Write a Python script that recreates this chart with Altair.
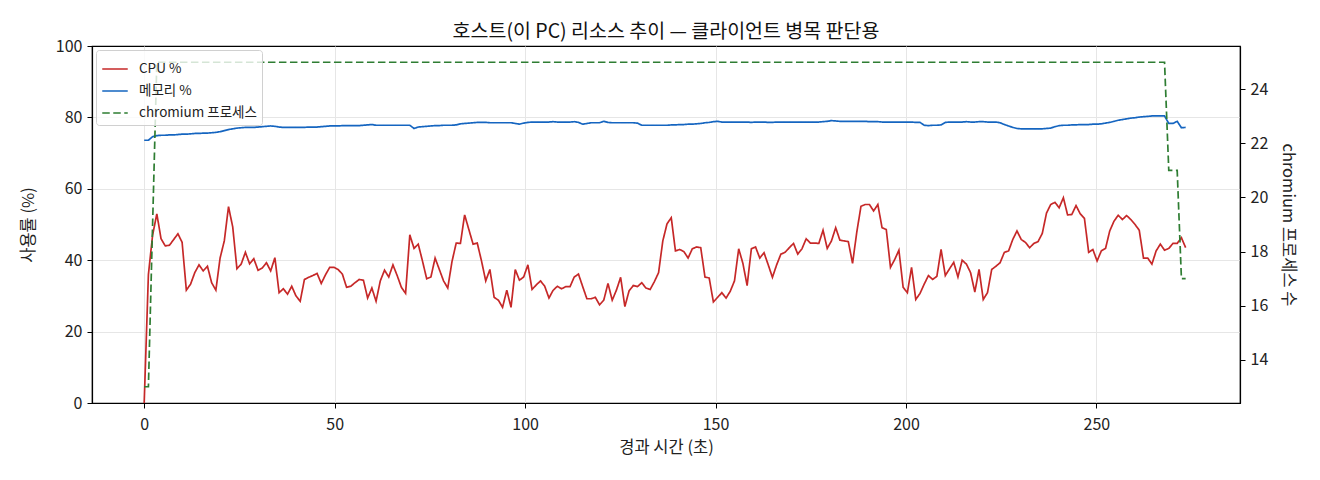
import pandas as pd
import altair as alt
from altair import datum

FONT = "Noto Sans CJK KR"

# sampling period of the monitor (seconds per sample)
sample_interval = 1.107

cpu_pct = [
    0, 36, 47, 53, 46, 44, 44.2, 45.8, 47.4, 45,
    31.6, 33.3, 36.5, 38.7, 37, 38.3, 33.7, 31.6, 40.6, 45.4,
    55, 49.3, 37.6, 38.9, 42.2, 39, 40.4, 37.2, 37.8, 39.3,
    37, 40.7, 30.9, 32, 30.5, 32.7, 30, 28.5, 34.6, 35.2,
    35.7, 36.3, 33.5, 35.9, 38, 38, 37.4, 36.1, 32.4, 32.7,
    33.7, 34.6, 34.4, 29.4, 32.2, 28.5, 34.2, 37.2, 35.3, 38.7,
    35.7, 32.4, 30.7, 47.1, 43.3, 44.5, 39.8, 34.8, 35.3, 40.6,
    37.4, 34.2, 32.2, 39.6, 44.8, 44.7, 52.7, 48.6, 44.5, 44.8,
    39.8, 34.2, 37.4, 29.6, 28.8, 26.8, 31.6, 26.8, 37.4, 34.4,
    35.3, 38.7, 31.8, 33.1, 34.2, 32.7, 29.4, 31.6, 32.7, 32,
    32.6, 32.6, 35.3, 36.1, 32.6, 29.2, 29.2, 29.6, 27.5, 28.8,
    33.5, 28.8, 31.6, 35.2, 27, 31.4, 32.9, 32.6, 33.7, 32.2,
    31.8, 34, 36.5, 45.4, 50.2, 51.9, 42.6, 43, 42.4, 40.6,
    43.2, 43.7, 43.5, 35.3, 35, 28.3, 29.6, 30.9, 29.4, 31.3,
    34.2, 43.2, 39.1, 32.9, 43.2, 43.7, 40.6, 42.1, 38.7, 35.2,
    38.7, 41.7, 42.2, 43.5, 44.7, 41.7, 43.2, 46, 44.8, 44.8,
    44.7, 48.4, 43.3, 45.4, 49.1, 45.6, 45.4, 45.2, 39.1, 47.8,
    55.1, 55.6, 55.6, 53.8, 55.6, 49.1, 48.6, 38, 40.2, 42.8,
    32.4, 30.9, 38, 29, 30.7, 33.3, 35.7, 34.6, 35.5, 43,
    35.7, 37.6, 39.4, 35.3, 40, 38.9, 36.5, 31.1, 37.4, 29,
    30.9, 37.4, 38.3, 39.3, 42.2, 42.6, 45.8, 48.2, 45.8, 45,
    43.5, 44.7, 45.2, 47.5, 53.2, 55.6, 56.2, 54.7, 57.5, 52.7,
    52.8, 55.3, 53, 51.7, 42.2, 43, 39.8, 42.6, 43.3, 48.2,
    50.9, 52.6, 51.4, 52.5, 51.4, 50, 48.4, 40.6, 40.6, 38.9,
    42.6, 44.5, 42.8, 43.3, 44.7, 44.7, 46.3, 43.5,
]

mem_pct = [
    73.6, 73.6, 74.6, 74.9, 75.0, 75.0, 75.1, 75.1, 75.2, 75.3,
    75.3, 75.4, 75.5, 75.5, 75.6, 75.6, 75.7, 75.8, 76.0, 76.3,
    76.6, 76.8, 77.0, 77.1, 77.2, 77.2, 77.2, 77.3, 77.4, 77.5,
    77.6, 77.5, 77.3, 77.2, 77.2, 77.2, 77.2, 77.2, 77.2, 77.3,
    77.3, 77.3, 77.4, 77.5, 77.6, 77.6, 77.6, 77.7, 77.7, 77.7,
    77.7, 77.7, 77.8, 77.9, 78.0, 77.8, 77.8, 77.8, 77.8, 77.8,
    77.8, 77.8, 77.8, 77.8, 76.9, 77.3, 77.4, 77.5, 77.6, 77.7,
    77.7, 77.8, 77.8, 77.8, 77.9, 78.2, 78.3, 78.4, 78.5, 78.6,
    78.6, 78.6, 78.5, 78.5, 78.5, 78.5, 78.5, 78.5, 78.3, 78.1,
    78.4, 78.6, 78.7, 78.7, 78.7, 78.7, 78.7, 78.8, 78.7, 78.7,
    78.7, 78.7, 78.8, 78.6, 78.1, 78.3, 78.5, 78.5, 78.5, 78.9,
    78.6, 78.5, 78.5, 78.5, 78.5, 78.5, 78.5, 78.4, 77.8, 77.8,
    77.8, 77.8, 77.8, 77.8, 77.8, 77.9, 77.9, 78.0, 78.0, 78.1,
    78.1, 78.2, 78.3, 78.5, 78.6, 78.8, 78.9, 78.7, 78.7, 78.7,
    78.7, 78.7, 78.7, 78.7, 78.6, 78.7, 78.7, 78.7, 78.6, 78.6,
    78.7, 78.7, 78.7, 78.7, 78.7, 78.7, 78.7, 78.7, 78.7, 78.7,
    78.7, 78.8, 78.9, 79.1, 79.0, 78.9, 78.9, 78.9, 78.9, 78.9,
    78.9, 78.9, 78.8, 78.8, 78.8, 78.7, 78.7, 78.7, 78.7, 78.7,
    78.7, 78.7, 78.7, 78.6, 78.6, 77.8, 77.7, 77.8, 77.8, 77.9,
    78.6, 78.7, 78.7, 78.7, 78.7, 78.8, 78.7, 78.7, 78.8, 78.8,
    78.7, 78.7, 78.7, 78.5, 78.0, 77.6, 77.2, 76.9, 76.8, 76.8,
    76.8, 76.8, 76.8, 76.8, 76.9, 77.0, 77.4, 77.7, 77.8, 77.8,
    77.9, 77.9, 78.0, 78.0, 78.0, 78.1, 78.1, 78.2, 78.4, 78.6,
    78.9, 79.2, 79.4, 79.6, 79.8, 79.9, 80.1, 80.2, 80.3, 80.4,
    80.4, 80.4, 80.4, 78.3, 78.3, 78.9, 77.1, 77.2,
]

chromium_procs = [13, 13, 19] + [25] * 240 + [21, 21, 21, 17, 17]

series_names = ["CPU %", "메모리 %", "chromium 프로세스"]
series_colors = ["#c62828", "#1565c0", "#2e7d32"]
series_dash = [[1, 0], [1, 0], [7.5, 3.5]]

x_ticks = [0, 50, 100, 150, 200, 250]
left_ticks = [0, 20, 40, 60, 80, 100]
right_ticks = [14, 16, 18, 20, 22, 24]

elapsed = [round(i * sample_interval, 2) for i in range(len(cpu_pct))]

df = pd.concat([
    pd.DataFrame({"t": elapsed, "value": cpu_pct, "series": series_names[0]}),
    pd.DataFrame({"t": elapsed, "value": mem_pct, "series": series_names[1]}),
    pd.DataFrame({"t": elapsed, "value": chromium_procs, "series": series_names[2]}),
], ignore_index=True)

# hide the 0/100 grid lines so they don't paint over the black frame
edge_grid = {"condition": {"test": "datum.value === 0 || datum.value === 100", "value": 0}, "value": 1}

x_enc = alt.X("t:Q", title="경과 시간 (초)",
              scale=alt.Scale(domain=[-13.7, 287.7], nice=False, zero=False),
              axis=alt.Axis(values=x_ticks, grid=True, labelPadding=8, titlePadding=7))
color_enc = alt.Color("series:N", title=None,
                      scale=alt.Scale(domain=series_names, range=series_colors),
                      legend=alt.Legend(orient="top-left"))
dash_enc = alt.StrokeDash("series:N", title=None,
                          scale=alt.Scale(domain=series_names, range=series_dash),
                          legend=alt.Legend(orient="top-left"))

base = alt.Chart(df)

usage = base.transform_filter(datum.series != "chromium 프로세스").mark_line(strokeWidth=1.7).encode(
    x=x_enc,
    y=alt.Y("value:Q", title="사용률 (%)",
            scale=alt.Scale(domain=[0, 100], nice=False),
            axis=alt.Axis(values=left_ticks, grid=True, gridOpacity=edge_grid, titlePadding=19)),
    color=color_enc,
    strokeDash=dash_enc,
    order="t:Q",
)

procs = base.transform_filter(datum.series == "chromium 프로세스").mark_line(strokeWidth=1.7).encode(
    x=x_enc,
    y=alt.Y("value:Q", title="chromium 프로세스 수",
            scale=alt.Scale(domain=[12.4, 25.6], nice=False, zero=False),
            axis=alt.Axis(values=right_ticks, grid=False, orient="right", titlePadding=12)),
    color=color_enc,
    strokeDash=dash_enc,
    order="t:Q",
)

chart = alt.layer(usage, procs).resolve_scale(y="independent").properties(
    width=1148, height=357,
    title=alt.TitleParams("호스트(이 PC) 리소스 추이 — 클라이언트 병목 판단용", frame="group", dy=12),
    autosize=alt.AutoSizeParams(type="none"),
    padding={"left": 84, "top": 38, "right": 72, "bottom": 60},
).configure_view(
    stroke="black", strokeWidth=1.2
).configure_axis(
    labelFont=FONT, titleFont=FONT, labelFontSize=16, titleFontSize=16.5,
    labelColor="#222222", titleColor="#222222", titleFontWeight="normal",
    domain=True, domainColor="black", domainWidth=1.2,
    tickColor="black", tickSize=5, labelPadding=5,
    gridColor="#e6e6e6", gridWidth=1,
).configure_legend(
    labelFont=FONT, labelFontSize=13.5, labelColor="#222222",
    symbolType="stroke", symbolSize=650, symbolStrokeWidth=1.7, labelOffset=10,
    fillColor="rgba(255,255,255,0.8)", strokeColor="#d0d0d0", cornerRadius=3,
    padding=5, offset=4, rowPadding=1,
).configure_title(
    font=FONT, fontSize=19.5, fontWeight="normal", color="#111111", anchor="middle", offset=8,
)

chart.save("out.html", embed_options={"renderer": "svg", "actions": False})
